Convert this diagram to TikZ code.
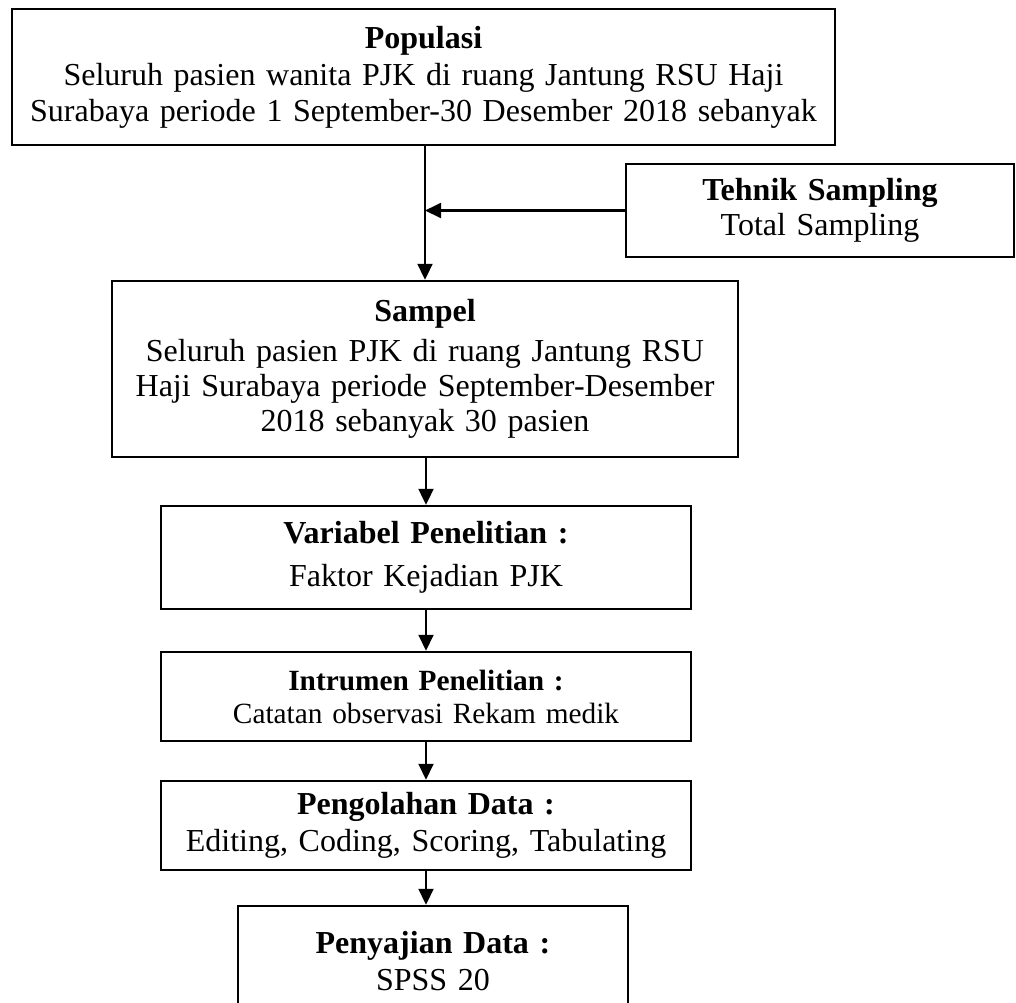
\documentclass[tikz,border=0pt]{standalone}
\usepackage{fontspec}
\setmainfont{Liberation Serif}
\usetikzlibrary{arrows.meta,positioning}
\tikzset{
  flow/.style={-{Triangle[length=6pt,width=5.6pt]},line width=0.8pt,draw=black},
  box/.style={draw=black,line width=0.9pt,fill=white,align=center,inner sep=0pt,
              font=\fontsize{12}{13.2}\selectfont},
  smallbox/.style={box,font=\fontsize{11}{12.4}\selectfont}
}
\begin{document}
\begin{tikzpicture}[x=0.375pt,y=-0.375pt]
  \useasboundingbox (0,0) rectangle (1016,1002);
  \clip (0,0) rectangle (1016,1002);
  \node[box,text width=308.6pt,minimum height=51pt] (pop) at (423.5,77)
    {\textbf{Populasi}\\[1pt]Seluruh pasien wanita PJK di ruang Jantung RSU Haji\\
     Surabaya periode 1 September-30 Desember 2018 sebanyak};
  \node[box,text width=145.5pt,minimum height=34.9pt] (tek) at (820,210.5)
    {\textbf{Tehnik Sampling}\\Total Sampling};
  \node[box,text width=234.75pt,minimum height=66pt] (smp) at (425,369)
    {\textbf{Sampel}\\[1.5pt]Seluruh pasien PJK di ruang Jantung RSU\\
     Haji Surabaya periode September-Desember\\2018 sebanyak 30 pasien};
  \node[box,text width=198.75pt,minimum height=38.6pt] (var) at (426,557.5)
    {\textbf{Variabel Penelitian :}\\[3pt]Faktor Kejadian PJK};
  \node[smallbox,text width=198.75pt,minimum height=33.4pt] (ins) at (426,696.5)
    {\textbf{Intrumen Penelitian :}\\Catatan observasi Rekam medik};
  \node[box,text width=198.75pt,minimum height=33.4pt] (olah) at (426,825.5)
    {\textbf{Pengolahan Data :}\\[0.5pt]Editing, Coding, Scoring, Tabulating};
  \node[box,text width=146.25pt,minimum height=41.25pt] (saji) at (433,961)
    {\textbf{Penyajian Data :}\\[1pt]SPSS 20};

  \draw[flow] (pop.south -| smp.north) -- (smp.north);
  \draw[flow] (tek.west) -- (tek.west -| smp.north);
  \draw[flow] (smp.south -| var.north) -- (var.north);
  \draw[flow] (var.south) -- (ins.north);
  \draw[flow] (ins.south) -- (olah.north);
  \draw[flow] (olah.south) -- (olah.south |- saji.north);
\end{tikzpicture}
\end{document}
